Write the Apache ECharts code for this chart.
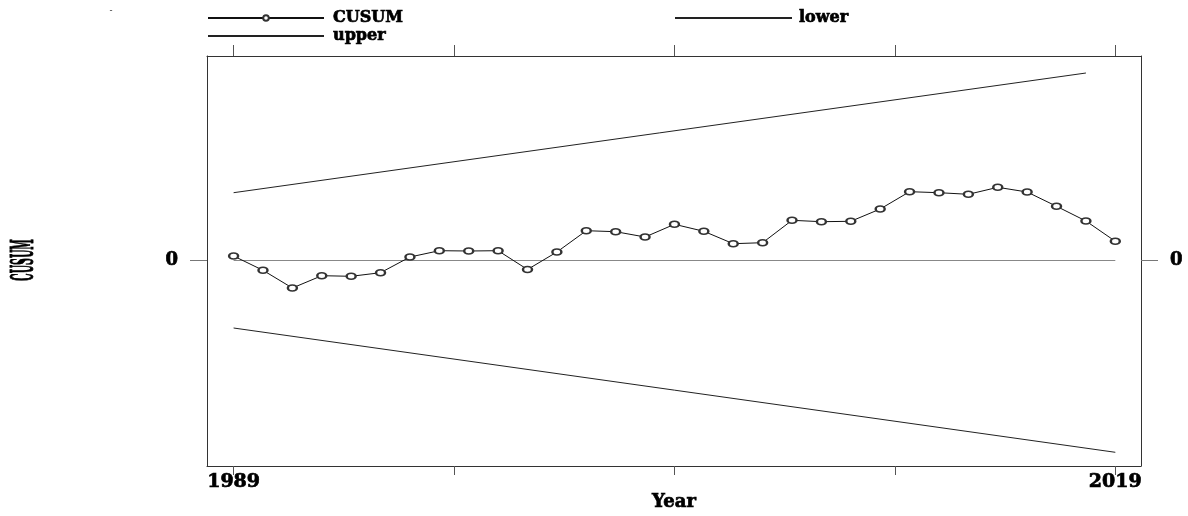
<!DOCTYPE html>
<html>
<head>
<meta charset="utf-8">
<script src="https://cdn.jsdelivr.net/npm/echarts@6/dist/echarts.min.js"></script>
<style>
html,body{margin:0;padding:0;background:#fff;}
#chart{width:1188px;height:516px;}
</style>
</head>
<body>
<div id="chart"></div>
<script>
// ---- data ----
const years = [1989,1990,1991,1992,1993,1994,1995,1996,1997,1998,1999,2000,2001,2002,2003,2004,2005,2006,2007,2008,2009,2010,2011,2012,2013,2014,2015,2016,2017,2018,2019];
const cusum = [0.45,-0.98,-2.75,-1.52,-1.58,-1.22,0.35,0.98,0.95,0.98,-0.9,0.85,2.98,2.88,2.35,3.62,2.92,1.68,1.78,4.02,3.88,3.92,5.15,6.88,6.78,6.62,7.32,6.85,5.42,3.95,1.92];
const upperYears = [1989, 2018];
const upperValues = [6.78, 18.75];
const lowerYears = [1989, 2019];
const lowerValues = [-6.75, -19.18];
const zeroYears = [1989, 2019];
const zeroValues = [0, 0];
const xTickValues = [1989, 1996.5, 2004, 2011.5, 2019];
const xLabelValues = [1989, 2019];
const yTickValues = [0];
const xMin = 1988.095, xMax = 2019.874;
const yMin = -20.55, yMax = 20.45;

const pairs = (xs, ys) => xs.map((x, i) => [x, ys[i]]);
const FONT = '"DejaVu Serif", serif';

const chart = echarts.init(document.getElementById('chart'), null, {renderer: 'canvas'});
const axisLineStyle = {color: '#333', width: 1};
const tickStyle = {color: '#555', width: 1};
const heavy = {textBorderColor: '#000', textBorderWidth: 0.7};
const legendText = Object.assign({fontFamily: FONT, fontWeight: 'bold', fontSize: 16, color: '#000', lineHeight: 18}, heavy);
const tickText = Object.assign({fontFamily: FONT, fontWeight: 'bold', fontSize: 19, color: '#000'}, heavy);

chart.setOption({
  animation: false,
  backgroundColor: '#fff',
  grid: {left: 207, right: 47, top: 56, bottom: 50, containLabel: false, outerBoundsMode: 'none'},
  legend: [
    {
      data: ['CUSUM', {name: 'upper', itemStyle: {opacity: 0}}],
      orient: 'vertical',
      left: 207, top: 9, padding: 0,
      itemWidth: 116, itemHeight: 7, itemGap: 0,
      selectedMode: false,
      textStyle: Object.assign({padding: [0,0,0,4]}, legendText)
    },
    {
      data: [{name: 'lower', itemStyle: {opacity: 0}}],
      orient: 'vertical',
      left: 674, top: 9, padding: 0,
      itemWidth: 117, itemHeight: 7, itemGap: 0,
      selectedMode: false,
      textStyle: Object.assign({padding: [0,0,0,2]}, legendText)
    }
  ],
  xAxis: [
    {
      type: 'value', position: 'bottom', min: xMin, max: xMax,
      splitLine: {show: false},
      axisLine: {show: true, onZero: false, lineStyle: axisLineStyle},
      axisTick: {show: true, length: 9, customValues: xTickValues, lineStyle: tickStyle},
      axisLabel: Object.assign({customValues: xLabelValues, margin: 7, formatter: v => String(v)}, tickText),
      name: 'Year', nameLocation: 'middle', nameGap: 27, nameMoveOverlap: false,
      nameTextStyle: Object.assign({fontFamily: FONT, fontWeight: 'bold', fontSize: 18, color: '#000'}, heavy)
    },
    {
      type: 'value', position: 'top', min: xMin, max: xMax,
      splitLine: {show: false},
      axisLine: {show: true, onZero: false, lineStyle: axisLineStyle},
      axisTick: {show: true, length: 11, customValues: xTickValues, lineStyle: tickStyle},
      axisLabel: {show: false}
    }
  ],
  yAxis: [
    {
      type: 'value', position: 'left', min: yMin, max: yMax,
      splitLine: {show: false},
      axisLine: {show: true, onZero: false, lineStyle: axisLineStyle},
      axisTick: {show: true, length: 17, customValues: yTickValues, lineStyle: {color: '#777', width: 1}},
      axisLabel: Object.assign({customValues: yTickValues, margin: 29}, tickText, {fontSize: 18})
    },
    {
      type: 'value', position: 'right', min: yMin, max: yMax,
      splitLine: {show: false},
      axisLine: {show: true, onZero: false, lineStyle: axisLineStyle},
      axisTick: {show: true, length: 17, customValues: yTickValues, lineStyle: {color: '#777', width: 1}},
      axisLabel: Object.assign({customValues: yTickValues, margin: 29}, tickText, {fontSize: 18})
    }
  ],
  graphic: [
    {
      type: 'text', x: 25, y: 260, rotation: Math.PI / 2, scaleX: 0.6, scaleY: 1.95,
      style: {text: 'CUSUM', font: 'bold 16px ' + FONT, fill: '#000', stroke: '#000', lineWidth: 0.5, textAlign: 'center', textVerticalAlign: 'middle'}
    },
    {
      type: 'text', x: 111, y: 11,
      style: {text: '-', font: '9px ' + FONT, fill: '#333', textAlign: 'center', textVerticalAlign: 'middle'}
    }
  ],
  series: [
    {
      name: 'zero', type: 'line', data: pairs(zeroYears, zeroValues),
      symbol: 'none', lineStyle: {color: '#888', width: 1.2}, itemStyle: {color: '#888'}, silent: true, z: 1
    },
    {
      name: 'CUSUM', type: 'line', data: pairs(years, cusum),
      symbol: 'emptyCircle', symbolSize: [9, 6], showAllSymbol: true,
      lineStyle: {color: '#111', width: 1},
      itemStyle: {color: '#333', borderColor: '#333', borderWidth: 0.9},
      z: 3
    },
    {
      name: 'upper', type: 'line', data: pairs(upperYears, upperValues),
      symbol: 'none', lineStyle: {color: '#222', width: 1}, itemStyle: {color: '#222'}, z: 2
    },
    {
      name: 'lower', type: 'line', data: pairs(lowerYears, lowerValues),
      symbol: 'none', lineStyle: {color: '#222', width: 1}, itemStyle: {color: '#222'}, z: 2
    }
  ]
});
</script>
</body>
</html>
